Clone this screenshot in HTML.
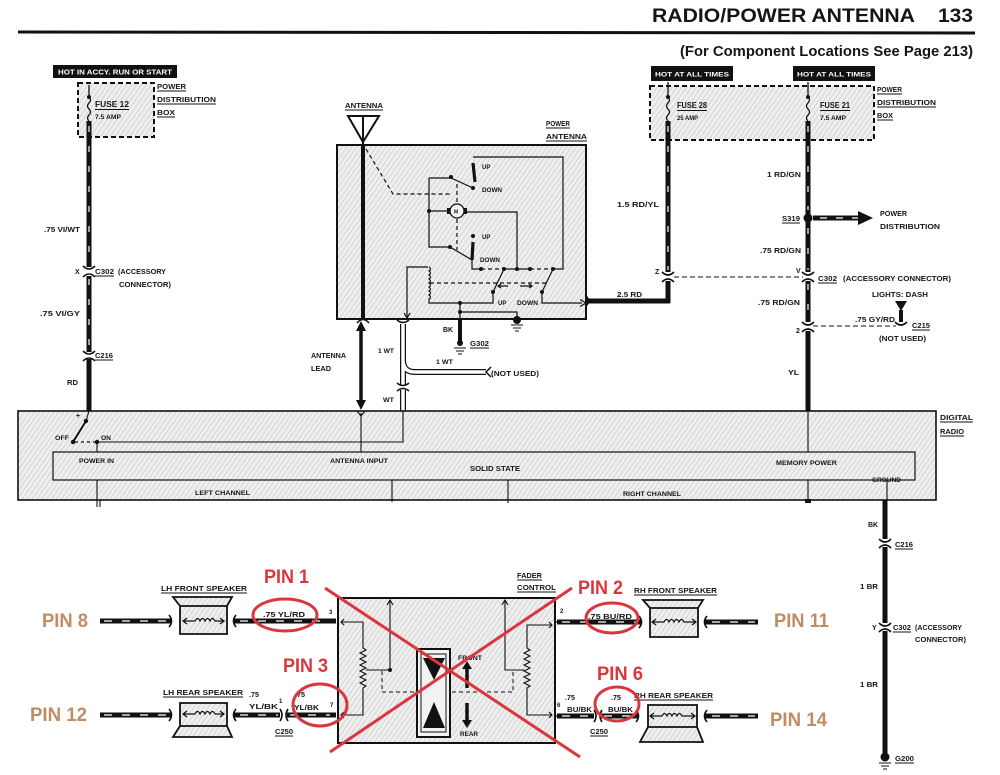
<!DOCTYPE html>
<html><head><meta charset="utf-8"><style>
html,body{margin:0;padding:0;background:#fff}
svg{display:block}
text{font-family:"Liberation Sans",Arial,sans-serif;font-weight:bold;fill:#151515}
.s{font-size:7px}
.x{font-size:6px}
.m{font-size:8px}
.red{fill:#d9363e;font-size:19px}
.tan{fill:#bf8c63;font-size:19px}
.w{fill:#fff}
</style></head><body>
<svg width="1000" height="775" viewBox="0 0 1000 775" xmlns="http://www.w3.org/2000/svg">
<defs>
<pattern id="st" width="4" height="4" patternUnits="userSpaceOnUse" patternTransform="rotate(35)">
<rect width="4" height="4" fill="#efefef"/><rect width="1" height="4" fill="#d4d4d4"/>
</pattern>
</defs>
<rect width="1000" height="775" fill="#fff"/>

<!-- HEADER -->
<text x="652" y="22" style="font-size:19px" textLength="263" lengthAdjust="spacingAndGlyphs">RADIO/POWER ANTENNA</text>
<text x="938" y="22" style="font-size:19px" textLength="35" lengthAdjust="spacingAndGlyphs">133</text>
<path d="M18 32 L975 33" stroke="#111" stroke-width="3"/>
<text x="680" y="56" style="font-size:14.5px" textLength="293" lengthAdjust="spacingAndGlyphs">(For Component Locations See Page 213)</text>

<!-- LEFT FUSE -->
<rect x="53" y="65" width="124" height="13" fill="#111"/>
<text x="58" y="74.5" class="s w" textLength="114" lengthAdjust="spacingAndGlyphs">HOT IN ACCY. RUN OR START</text>
<rect x="78" y="83" width="76" height="54" fill="url(#st)" stroke="#111" stroke-width="2" stroke-dasharray="5 3"/>
<path d="M89 85 V97 q3 3 0 6 q-3 3 0 6 q3 3 0 6 q-3 3 0 6" stroke="#111" fill="none" stroke-width="1.3"/>
<circle cx="89" cy="97" r="2" fill="#111"/>
<text x="95" y="107" class="m" textLength="34" lengthAdjust="spacingAndGlyphs">FUSE 12</text>
<path d="M95 109.5 H129" stroke="#111" stroke-width="1"/>
<text x="95" y="119" style="font-size:6.5px" textLength="26" lengthAdjust="spacingAndGlyphs">7.5 AMP</text>
<text x="157" y="89" class="s" textLength="29" lengthAdjust="spacingAndGlyphs">POWER</text>
<text x="157" y="102" class="s" textLength="59" lengthAdjust="spacingAndGlyphs">DISTRIBUTION</text>
<text x="157" y="115" class="s" textLength="18" lengthAdjust="spacingAndGlyphs">BOX</text>
<path d="M157 91 H186 M157 104 H216 M157 117 H175" stroke="#111" stroke-width="1"/>

<!-- left wire -->
<path d="M89 121 V267 M89 276 V352 M89 359 V411" stroke="#111" stroke-width="5"/>
<path d="M89 126 V265 M89 279 V350" stroke="#fff" stroke-width="1.2" stroke-dasharray="6 14"/>
<path d="M83 266 Q89 272 95 266 M83 277 Q89 271 95 277" stroke="#111" stroke-width="1.6" fill="none"/>
<path d="M83 351 Q89 357 95 351 M83 361 Q89 355 95 361" stroke="#111" stroke-width="1.6" fill="none"/>
<text x="44" y="232" class="s" textLength="36" lengthAdjust="spacingAndGlyphs">.75 VI/WT</text>
<text x="75" y="274" class="s">X</text>
<text x="95" y="274" style="font-size:7.5px" textLength="19" lengthAdjust="spacingAndGlyphs">C302</text>
<path d="M95 276 H114" stroke="#111" stroke-width="1"/>
<text x="118" y="274" style="font-size:7.5px" textLength="48" lengthAdjust="spacingAndGlyphs">(ACCESSORY</text>
<text x="119" y="287" style="font-size:7.5px" textLength="52" lengthAdjust="spacingAndGlyphs">CONNECTOR)</text>
<text x="40" y="316" class="s" textLength="40" lengthAdjust="spacingAndGlyphs">.75 VI/GY</text>
<text x="95" y="358" style="font-size:7.5px" textLength="18" lengthAdjust="spacingAndGlyphs">C216</text>
<path d="M95 360 H113" stroke="#111" stroke-width="1"/>
<text x="67" y="385" class="s" textLength="11" lengthAdjust="spacingAndGlyphs">RD</text>

<!-- ANTENNA -->
<text x="345" y="108" class="s" textLength="38" lengthAdjust="spacingAndGlyphs">ANTENNA</text>
<path d="M345 110 H383" stroke="#111" stroke-width="1"/>
<polygon points="348,116 379,116 363,142" fill="none" stroke="#111" stroke-width="2"/>
<path d="M363 116 V145" stroke="#111" stroke-width="2"/>
<rect x="337" y="145" width="249" height="174" fill="url(#st)" stroke="#111" stroke-width="2"/>
<path d="M363 145 V318" stroke="#111" stroke-width="4"/>
<path d="M357 323 Q363 316 369 323" stroke="#111" stroke-width="1.5" fill="none"/>
<text x="546" y="126" class="s" textLength="24" lengthAdjust="spacingAndGlyphs">POWER</text>
<text x="546" y="139" class="s" textLength="41" lengthAdjust="spacingAndGlyphs">ANTENNA</text>
<path d="M546 128 H570 M546 141 H587" stroke="#111" stroke-width="1"/>

<!-- power antenna internals -->
<g stroke="#111" stroke-width="1.2" fill="none">
<path d="M473 157 H563 V269 H553"/>
<path d="M429 178 H451 L473 188"/>
<path d="M429 178 V247 H450 L472 260 V269 H481"/>
<path d="M429 211 H450"/>
<path d="M464 212 H517 V269"/>
<path d="M504 269 H530"/>
<path d="M504 269 L493 292 M553 269 L542 292"/>
<path d="M407 318 V267 H428"/>
<path d="M429 267 q3 2 0 4 q3 2 0 4 q3 2 0 4 q3 2 0 4 q3 2 0 4 q3 2 0 4 q3 2 0 4 q3 2 0 4 V303 H493 V292"/>
<path d="M542 292 V303 H582"/>
<path d="M580 299.5 L586 303 L580 306.5"/>
<path d="M460 303 V319 M460 312 H517 V320"/>
<path d="M508 286 H498 M501 284 L498 286 L501 288 M520 286 H532 M529 284 L532 286 L529 288"/>
<path d="M404 313 L407 318 L410 313"/>
</g>
<g stroke="#111" stroke-width="1.2" fill="none" stroke-dasharray="4 3">
<path d="M366 149 L393 194 H450"/>
<path d="M457 184 V203 M457 219 V250"/>
<path d="M481 269 H504 M530 269 H553"/>
<path d="M430 283 H547"/>
</g>
<path d="M473 163 L475 182 M473 242 L472 260" stroke="#111" stroke-width="3.2"/>
<circle cx="457" cy="211" r="7" fill="#f4f4f4" stroke="#111" stroke-width="1.3"/>
<rect x="447" y="208" width="3" height="6" fill="#111"/>
<rect x="464" y="208" width="3" height="6" fill="#111"/>
<text x="454" y="213.5" style="font-size:5px">M</text>
<g fill="#111">
<circle cx="451" cy="177" r="2"/><circle cx="473" cy="188" r="2"/><circle cx="429" cy="211" r="2"/>
<circle cx="450" cy="247" r="2"/><circle cx="473" cy="236" r="2"/>
<circle cx="481" cy="269" r="2"/><circle cx="504" cy="269" r="2"/><circle cx="517" cy="269" r="2"/><circle cx="530" cy="269" r="2"/><circle cx="553" cy="269" r="2"/>
<circle cx="493" cy="292" r="2"/><circle cx="542" cy="292" r="2"/>
<circle cx="460" cy="303" r="2"/><circle cx="460" cy="312" r="2"/>
<circle cx="517" cy="320" r="4"/><circle cx="460" cy="343" r="3"/>
</g>
<path d="M511 325 H523 M513 328 H521 M515 331 H519 M454 348 H466 M456 351 H464 M458 354 H462" stroke="#111" stroke-width="1"/>
<text x="482" y="169" class="x">UP</text>
<text x="482" y="192" class="x" textLength="20" lengthAdjust="spacingAndGlyphs">DOWN</text>
<text x="482" y="239" class="x">UP</text>
<text x="480" y="262" class="x" textLength="20" lengthAdjust="spacingAndGlyphs">DOWN</text>
<text x="498" y="305" class="x">UP</text>
<text x="517" y="305" class="x" textLength="21" lengthAdjust="spacingAndGlyphs">DOWN</text>

<!-- BK ground -->
<path d="M460 319 V343" stroke="#111" stroke-width="4"/>
<text x="443" y="332" class="s">BK</text>
<text x="470" y="346" style="font-size:7.5px" textLength="19" lengthAdjust="spacingAndGlyphs">G302</text>
<path d="M470 348 H489" stroke="#111" stroke-width="1"/>

<!-- antenna lead -->
<path d="M361 328 V403" stroke="#111" stroke-width="3.5"/>
<polygon points="356,331 361,321 366,331" fill="#111"/>
<polygon points="356,400 361,410 366,400" fill="#111"/>
<text x="311" y="358" class="s" textLength="35" lengthAdjust="spacingAndGlyphs">ANTENNA</text>
<text x="311" y="371" class="s" textLength="20" lengthAdjust="spacingAndGlyphs">LEAD</text>

<!-- WT wire -->
<path d="M403 324 V411 M403 360 Q403 372 415 372 H486" stroke="#111" stroke-width="6" fill="none"/>
<path d="M403 324 V411 M403 360 Q403 372 415 372 H486" stroke="#fff" stroke-width="3.5" fill="none"/>
<rect x="398" y="385" width="10" height="5" fill="#fff"/>
<path d="M397 383 Q403 388 409 383 M397 391 Q403 386 409 391" stroke="#111" stroke-width="1.5" fill="none"/>
<path d="M397 320 Q403 325 409 320" stroke="#111" stroke-width="1.5" fill="none"/>
<path d="M491 367 L486 372 L491 377" stroke="#111" stroke-width="1.5" fill="none"/>
<text x="378" y="353" class="x" style="font-size:6.5px" textLength="16" lengthAdjust="spacingAndGlyphs">1 WT</text>
<text x="436" y="364" class="x" style="font-size:6.5px" textLength="17" lengthAdjust="spacingAndGlyphs">1 WT</text>
<text x="383" y="402" class="x" style="font-size:6.5px" textLength="11" lengthAdjust="spacingAndGlyphs">WT</text>
<text x="491" y="376" class="s" textLength="48" lengthAdjust="spacingAndGlyphs">(NOT USED)</text>

<!-- RIGHT FUSES -->
<rect x="651" y="66" width="82" height="15" fill="#111"/>
<text x="655" y="76.5" class="x w" style="font-size:6.5px" textLength="74" lengthAdjust="spacingAndGlyphs">HOT AT ALL TIMES</text>
<rect x="793" y="66" width="82" height="15" fill="#111"/>
<text x="797" y="76.5" class="x w" style="font-size:6.5px" textLength="74" lengthAdjust="spacingAndGlyphs">HOT AT ALL TIMES</text>
<rect x="650" y="86" width="224" height="54" fill="url(#st)" stroke="#111" stroke-width="2" stroke-dasharray="5 3"/>
<path d="M668 82 V97 q3 3 0 6 q-3 3 0 6 q3 3 0 6 q-3 3 0 6 M808 82 V97 q3 3 0 6 q-3 3 0 6 q3 3 0 6 q-3 3 0 6" stroke="#111" fill="none" stroke-width="1.3"/>
<circle cx="668" cy="97" r="2" fill="#111"/><circle cx="808" cy="97" r="2" fill="#111"/>
<text x="677" y="108" class="m" textLength="30" lengthAdjust="spacingAndGlyphs">FUSE 28</text>
<text x="677" y="120" class="x" textLength="21" lengthAdjust="spacingAndGlyphs">25 AMP</text>
<text x="820" y="108" class="m" textLength="30" lengthAdjust="spacingAndGlyphs">FUSE 21</text>
<text x="820" y="120" class="x" textLength="26" lengthAdjust="spacingAndGlyphs">7.5 AMP</text>
<path d="M677 110.5 H707 M820 110.5 H850" stroke="#111" stroke-width="1"/>
<text x="877" y="92" class="s" textLength="25" lengthAdjust="spacingAndGlyphs">POWER</text>
<text x="877" y="105" class="s" textLength="59" lengthAdjust="spacingAndGlyphs">DISTRIBUTION</text>
<text x="877" y="118" class="s" textLength="16" lengthAdjust="spacingAndGlyphs">BOX</text>
<path d="M877 94 H902 M877 107 H936 M877 120 H893" stroke="#111" stroke-width="1"/>

<!-- fuse 28 wire -->
<path d="M668 121 V272 M668 281 V303" stroke="#111" stroke-width="5"/>
<path d="M586 301 H670" stroke="#111" stroke-width="5"/>
<path d="M668 126 V270" stroke="#fff" stroke-width="1.2" stroke-dasharray="6 14"/>
<path d="M662 272 Q668 278 674 272 M662 282 Q668 276 674 282" stroke="#111" stroke-width="1.6" fill="none"/>
<path d="M586 296 Q591 301 586 306" stroke="#111" stroke-width="1.6" fill="none"/>
<text x="617" y="207" class="s" textLength="42" lengthAdjust="spacingAndGlyphs">1.5 RD/YL</text>
<text x="655" y="274" class="s">Z</text>
<text x="617" y="297" class="s" textLength="25" lengthAdjust="spacingAndGlyphs">2.5 RD</text>
<path d="M674 277 H803" stroke="#111" stroke-width="1" stroke-dasharray="5 3"/>

<!-- fuse 21 wire -->
<path d="M808 121 V272 M808 281 V322 M808 331 V411" stroke="#111" stroke-width="5"/>
<path d="M808 126 V210 M808 228 V270 M808 284 V320" stroke="#fff" stroke-width="1.2" stroke-dasharray="6 14"/>
<path d="M802 272 Q808 278 814 272 M802 282 Q808 276 814 282" stroke="#111" stroke-width="1.6" fill="none"/>
<path d="M802 322 Q808 328 814 322 M802 332 Q808 326 814 332" stroke="#111" stroke-width="1.6" fill="none"/>
<circle cx="808" cy="218" r="4.5" fill="#111"/>
<path d="M813 218 H861" stroke="#111" stroke-width="5"/>
<path d="M820 218 H858" stroke="#fff" stroke-width="1.2" stroke-dasharray="7 9"/>
<polygon points="858,211 873,218 858,225" fill="#111"/>
<text x="767" y="177" class="s" textLength="34" lengthAdjust="spacingAndGlyphs">1 RD/GN</text>
<text x="782" y="221" style="font-size:7.5px" textLength="18" lengthAdjust="spacingAndGlyphs">S319</text>
<path d="M782 223 H800" stroke="#111" stroke-width="1"/>
<text x="880" y="216" class="s" textLength="27" lengthAdjust="spacingAndGlyphs">POWER</text>
<text x="880" y="229" class="s" textLength="60" lengthAdjust="spacingAndGlyphs">DISTRIBUTION</text>
<text x="760" y="253" class="s" textLength="41" lengthAdjust="spacingAndGlyphs">.75 RD/GN</text>
<text x="796" y="273" class="s">V</text>
<text x="818" y="281" style="font-size:7.5px" textLength="19" lengthAdjust="spacingAndGlyphs">C302</text>
<path d="M818 283 H837" stroke="#111" stroke-width="1"/>
<text x="843" y="281" style="font-size:7.5px" textLength="108" lengthAdjust="spacingAndGlyphs">(ACCESSORY CONNECTOR)</text>
<text x="872" y="297" style="font-size:7.5px" textLength="56" lengthAdjust="spacingAndGlyphs">LIGHTS: DASH</text>
<text x="758" y="305" class="s" textLength="42" lengthAdjust="spacingAndGlyphs">.75 RD/GN</text>
<polygon points="895,301 907,301 901,311" fill="#111"/>
<path d="M901 310 V322" stroke="#111" stroke-width="4"/>
<path d="M895 322 Q901 328 907 322" stroke="#111" stroke-width="1.6" fill="none"/>
<path d="M813 326 H896" stroke="#111" stroke-width="1" stroke-dasharray="5 3"/>
<text x="855" y="322" class="s" textLength="40" lengthAdjust="spacingAndGlyphs">.75 GY/RD</text>
<text x="796" y="333" class="s">2</text>
<text x="912" y="328" style="font-size:7.5px" textLength="18" lengthAdjust="spacingAndGlyphs">C215</text>
<path d="M912 330 H930" stroke="#111" stroke-width="1"/>
<text x="879" y="341" style="font-size:7.5px" textLength="47" lengthAdjust="spacingAndGlyphs">(NOT USED)</text>
<text x="788" y="375" class="s" textLength="11" lengthAdjust="spacingAndGlyphs">YL</text>

<!-- DIGITAL RADIO -->
<rect x="18" y="411" width="918" height="89" fill="url(#st)" stroke="#111" stroke-width="1.6"/>
<rect x="53" y="452" width="862" height="28" fill="url(#st)" stroke="#111" stroke-width="1.2"/>
<text x="940" y="420" style="font-size:7.5px" textLength="33" lengthAdjust="spacingAndGlyphs">DIGITAL</text>
<text x="940" y="434" style="font-size:7.5px" textLength="24" lengthAdjust="spacingAndGlyphs">RADIO</text>
<path d="M940 422 H973 M940 436 H964" stroke="#111" stroke-width="1"/>
<g stroke="#111" stroke-width="1.1" fill="none">
<path d="M89 411 L86 421"/>
<path d="M97 442 H403 V411"/>
<path d="M97 442 V452"/>
<path d="M361 413 V452 M357 411 L361 416 L365 411"/>
<path d="M808 411 V452 M808 480 V502"/>
<path d="M97 480 V507 M100 500 V507"/>
<path d="M392 480 V502"/>
<path d="M508 480 V503"/>
<path d="M887 480 V500"/>
</g>
<path d="M86 421 L73 442" stroke="#111" stroke-width="2"/>
<path d="M75 442 H95" stroke="#111" stroke-width="1.2" stroke-dasharray="3 3"/>
<circle cx="86" cy="421" r="2.2" fill="#111"/><circle cx="73" cy="442" r="2.2" fill="#111"/><circle cx="97" cy="442" r="2.2" fill="#111"/>
<rect x="805" y="499" width="6" height="4" fill="#111"/>
<text x="76" y="418" class="s">+</text>
<text x="55" y="440" style="font-size:6.5px" textLength="14" lengthAdjust="spacingAndGlyphs">OFF</text>
<text x="101" y="440" style="font-size:6.5px" textLength="10" lengthAdjust="spacingAndGlyphs">ON</text>
<text x="79" y="463" class="x" textLength="35" lengthAdjust="spacingAndGlyphs">POWER IN</text>
<text x="330" y="463" class="x" textLength="58" lengthAdjust="spacingAndGlyphs">ANTENNA INPUT</text>
<text x="470" y="471" class="s" textLength="50" lengthAdjust="spacingAndGlyphs">SOLID STATE</text>
<text x="776" y="465" class="x" textLength="61" lengthAdjust="spacingAndGlyphs">MEMORY POWER</text>
<text x="872" y="482" class="x" textLength="29" lengthAdjust="spacingAndGlyphs">GROUND</text>
<text x="195" y="495" class="x" textLength="55" lengthAdjust="spacingAndGlyphs">LEFT CHANNEL</text>
<text x="623" y="496" class="x" textLength="58" lengthAdjust="spacingAndGlyphs">RIGHT CHANNEL</text>

<!-- GROUND WIRE -->
<path d="M885 500 V539 M885 547 V623 M885 631 V757" stroke="#111" stroke-width="5"/>
<path d="M879 539 Q885 545 891 539 M879 548 Q885 542 891 548" stroke="#111" stroke-width="1.6" fill="none"/>
<path d="M879 623 Q885 629 891 623 M879 632 Q885 626 891 632" stroke="#111" stroke-width="1.6" fill="none"/>
<circle cx="885" cy="757" r="4.5" fill="#111"/>
<path d="M879 763 H891 M881 766 H889 M883 769 H887" stroke="#111" stroke-width="1"/>
<text x="868" y="527" class="s">BK</text>
<text x="895" y="547" style="font-size:7.5px" textLength="18" lengthAdjust="spacingAndGlyphs">C216</text>
<path d="M895 549 H913" stroke="#111" stroke-width="1"/>
<text x="860" y="589" class="s" textLength="18" lengthAdjust="spacingAndGlyphs">1 BR</text>
<text x="872" y="630" class="s">Y</text>
<text x="893" y="630" style="font-size:7.5px" textLength="18" lengthAdjust="spacingAndGlyphs">C302</text>
<path d="M893 632 H911" stroke="#111" stroke-width="1"/>
<text x="915" y="630" style="font-size:7.5px" textLength="47" lengthAdjust="spacingAndGlyphs">(ACCESSORY</text>
<text x="915" y="642" style="font-size:7.5px" textLength="51" lengthAdjust="spacingAndGlyphs">CONNECTOR)</text>
<text x="860" y="687" class="s" textLength="18" lengthAdjust="spacingAndGlyphs">1 BR</text>
<text x="895" y="761" style="font-size:7.5px" textLength="19" lengthAdjust="spacingAndGlyphs">G200</text>
<path d="M895 763 H914" stroke="#111" stroke-width="1"/>

<!-- SPEAKER WIRES -->
<g stroke="#111" stroke-width="5">
<path d="M100 621 H171 M234 621 H336"/>
<path d="M100 715 H171 M234 715 H280 M287 715 H336"/>
<path d="M557 622 H641 M705 622 H758"/>
<path d="M557 716 H594 M601 716 H638 M705 716 H758"/>
</g>
<g stroke="#fff" stroke-width="1.3" stroke-dasharray="8 10">
<path d="M104 621 H168 M240 621 H330"/>
<path d="M104 715 H168 M240 715 H278 M290 715 H330"/>
<path d="M562 622 H636 M712 622 H755"/>
<path d="M562 716 H592 M604 716 H634 M712 716 H755"/>
</g>
<g stroke="#111" stroke-width="1.6" fill="none">
<path d="M344 615 L338 621 L344 627 M344 709 L338 715 L344 721"/>
<path d="M550 616 L556 622 L550 628 M550 710 L556 716 L550 722"/>
<path d="M169 615 Q174 621 169 627 M236 615 Q231 621 236 627"/>
<path d="M169 709 Q174 715 169 721 M236 709 Q231 715 236 721"/>
<path d="M639 616 Q644 622 639 628 M707 616 Q702 622 707 628"/>
<path d="M636 710 Q641 716 636 722 M707 710 Q702 716 707 722"/>
<path d="M280 709 Q284 715 280 721 M288 709 Q284 715 288 721"/>
<path d="M594 710 Q598 716 594 722 M602 710 Q598 716 602 722"/>
</g>

<!-- SPEAKERS -->
<g fill="url(#st)" stroke="#111" stroke-width="1.8">
<path d="M173 597 H232 L227 606 V634 H180 V606 Z M180 606 H227"/>
<path d="M180 703 H227 V726 L232 737 H173 L180 726 Z M180 726 H227"/>
<path d="M643 600 H703 L698 608 V637 H650 V608 Z M650 608 H698"/>
<path d="M648 705 H697 V727 L703 742 H640 L648 727 Z M648 727 H697"/>
</g>
<g stroke="#111" stroke-width="1.2" fill="none">
<path d="M183 621 H195 q2.5 -5 5 0 q2.5 -5 5 0 q2.5 -5 5 0 q2.5 -5 5 0 H224 M187 618 L183 621 L187 624 M220 618 L224 621 L220 624"/>
<path d="M183 714 H195 q2.5 -5 5 0 q2.5 -5 5 0 q2.5 -5 5 0 q2.5 -5 5 0 H224 M187 711 L183 714 L187 717 M220 711 L224 714 L220 717"/>
<path d="M652 622 H664 q2.5 -5 5 0 q2.5 -5 5 0 q2.5 -5 5 0 q2.5 -5 5 0 H696 M656 619 L652 622 L656 625 M692 619 L696 622 L692 625"/>
<path d="M650 716 H662 q2.5 -5 5 0 q2.5 -5 5 0 q2.5 -5 5 0 q2.5 -5 5 0 H695 M654 713 L650 716 L654 719 M691 713 L695 716 L691 719"/>
</g>
<text x="161" y="591" class="s" textLength="86" lengthAdjust="spacingAndGlyphs">LH FRONT SPEAKER</text>
<path d="M161 593 H247" stroke="#111" stroke-width="1"/>
<text x="163" y="695" class="s" textLength="80" lengthAdjust="spacingAndGlyphs">LH REAR SPEAKER</text>
<path d="M163 697 H243" stroke="#111" stroke-width="1"/>
<text x="634" y="593" class="s" textLength="83" lengthAdjust="spacingAndGlyphs">RH FRONT SPEAKER</text>
<path d="M634 595 H717" stroke="#111" stroke-width="1"/>
<text x="634" y="698" class="s" textLength="79" lengthAdjust="spacingAndGlyphs">RH REAR SPEAKER</text>
<path d="M634 700 H713" stroke="#111" stroke-width="1"/>

<!-- wire labels bottom -->
<text x="263" y="617" class="s" textLength="42" lengthAdjust="spacingAndGlyphs">.75 YL/RD</text>
<text x="329" y="614" class="x">3</text>
<text x="249" y="697" class="s" textLength="10" lengthAdjust="spacingAndGlyphs">.75</text>
<text x="249" y="709" class="s" textLength="29" lengthAdjust="spacingAndGlyphs">YL/BK</text>
<text x="279" y="703" class="x">1</text>
<text x="295" y="697" class="s" textLength="10" lengthAdjust="spacingAndGlyphs">.75</text>
<text x="294" y="710" class="s" textLength="25" lengthAdjust="spacingAndGlyphs">YL/BK</text>
<text x="330" y="707" class="x">7</text>
<text x="275" y="734" class="s" textLength="18" lengthAdjust="spacingAndGlyphs">C250</text>
<path d="M275 736 H293" stroke="#111" stroke-width="1"/>
<text x="560" y="613" class="x">2</text>
<text x="588" y="619" class="s" textLength="44" lengthAdjust="spacingAndGlyphs">.75 BU/RD</text>
<text x="557" y="707" class="x">6</text>
<text x="565" y="700" class="s" textLength="10" lengthAdjust="spacingAndGlyphs">.75</text>
<text x="567" y="712" class="s" textLength="25" lengthAdjust="spacingAndGlyphs">BU/BK</text>
<text x="611" y="700" class="s" textLength="10" lengthAdjust="spacingAndGlyphs">.75</text>
<text x="608" y="712" class="s" textLength="25" lengthAdjust="spacingAndGlyphs">BU/BK</text>
<text x="590" y="734" class="s" textLength="18" lengthAdjust="spacingAndGlyphs">C250</text>
<path d="M590 736 H608" stroke="#111" stroke-width="1"/>

<!-- FADER -->
<text x="517" y="578" class="s" textLength="25" lengthAdjust="spacingAndGlyphs">FADER</text>
<text x="517" y="590" class="s" textLength="39" lengthAdjust="spacingAndGlyphs">CONTROL</text>
<path d="M517 580 H542 M517 592 H556" stroke="#111" stroke-width="1"/>
<rect x="338" y="598" width="217" height="145" fill="url(#st)" stroke="#111" stroke-width="2"/>
<g stroke="#111" stroke-width="1.1" fill="none">
<path d="M341 622 H363 V648 l3 2 l-6 3 l6 3 l-6 3 l6 3 l-6 3 l6 3 l-6 3 l6 3 l-6 3 l6 3 l-6 3 l6 3 l-3 2 V715 H341"/>
<path d="M344 619 L341 622 L344 625 M344 712 L341 715 L344 718"/>
<path d="M366 670 H390 V601 M387 605 L390 600 L393 605"/>
<path d="M552 625 H527 V648 l3 2 l-6 3 l6 3 l-6 3 l6 3 l-6 3 l6 3 l-6 3 l6 3 l-6 3 l6 3 l-6 3 l6 3 l-3 2 V715 H552"/>
<path d="M549 622 L552 625 L549 628 M549 712 L552 715 L549 718"/>
<path d="M524 670 H505 V601 M502 605 L505 600 L508 605"/>
</g>
<path d="M382 671 V692 H513 V671" stroke="#111" stroke-width="1" fill="none" stroke-dasharray="4 3"/>
<circle cx="390" cy="670" r="2" fill="#111"/>
<rect x="417" y="649" width="33" height="88" fill="#f2f2f2" stroke="#111" stroke-width="2"/>
<rect x="421" y="654" width="25" height="78" fill="none" stroke="#111" stroke-width="1"/>
<polygon points="423,658 445,658 434,680" fill="#111"/>
<polygon points="423,728 445,728 434,702" fill="#111"/>
<text x="458" y="660" class="x" textLength="24" lengthAdjust="spacingAndGlyphs">FRONT</text>
<path d="M467 688 V668" stroke="#111" stroke-width="3.5"/>
<polygon points="462,669 467,661 472,669" fill="#111"/>
<path d="M467 703 V721" stroke="#111" stroke-width="3.5"/>
<polygon points="462,720 467,728 472,720" fill="#111"/>
<text x="460" y="736" class="x" textLength="18" lengthAdjust="spacingAndGlyphs">REAR</text>

<!-- RED MARKUP -->
<g stroke="#d9363e" stroke-width="3" fill="none">
<path d="M325 588 L580 757"/>
<path d="M572 588 L330 752"/>
<ellipse cx="285" cy="615" rx="32" ry="16"/>
<ellipse cx="320" cy="705" rx="27" ry="21"/>
<ellipse cx="612" cy="618" rx="26" ry="15"/>
<ellipse cx="617" cy="704" rx="22" ry="17"/>
</g>
<text x="264" y="583" class="red" textLength="45" lengthAdjust="spacingAndGlyphs">PIN 1</text>
<text x="283" y="672" class="red" textLength="45" lengthAdjust="spacingAndGlyphs">PIN 3</text>
<text x="578" y="594" class="red" textLength="45" lengthAdjust="spacingAndGlyphs">PIN 2</text>
<text x="597" y="680" class="red" textLength="46" lengthAdjust="spacingAndGlyphs">PIN 6</text>
<text x="42" y="627" class="tan" textLength="46" lengthAdjust="spacingAndGlyphs">PIN 8</text>
<text x="30" y="721" class="tan" textLength="57" lengthAdjust="spacingAndGlyphs">PIN 12</text>
<text x="774" y="627" class="tan" textLength="55" lengthAdjust="spacingAndGlyphs">PIN 11</text>
<text x="770" y="726" class="tan" textLength="57" lengthAdjust="spacingAndGlyphs">PIN 14</text>
</svg>
</body></html>
